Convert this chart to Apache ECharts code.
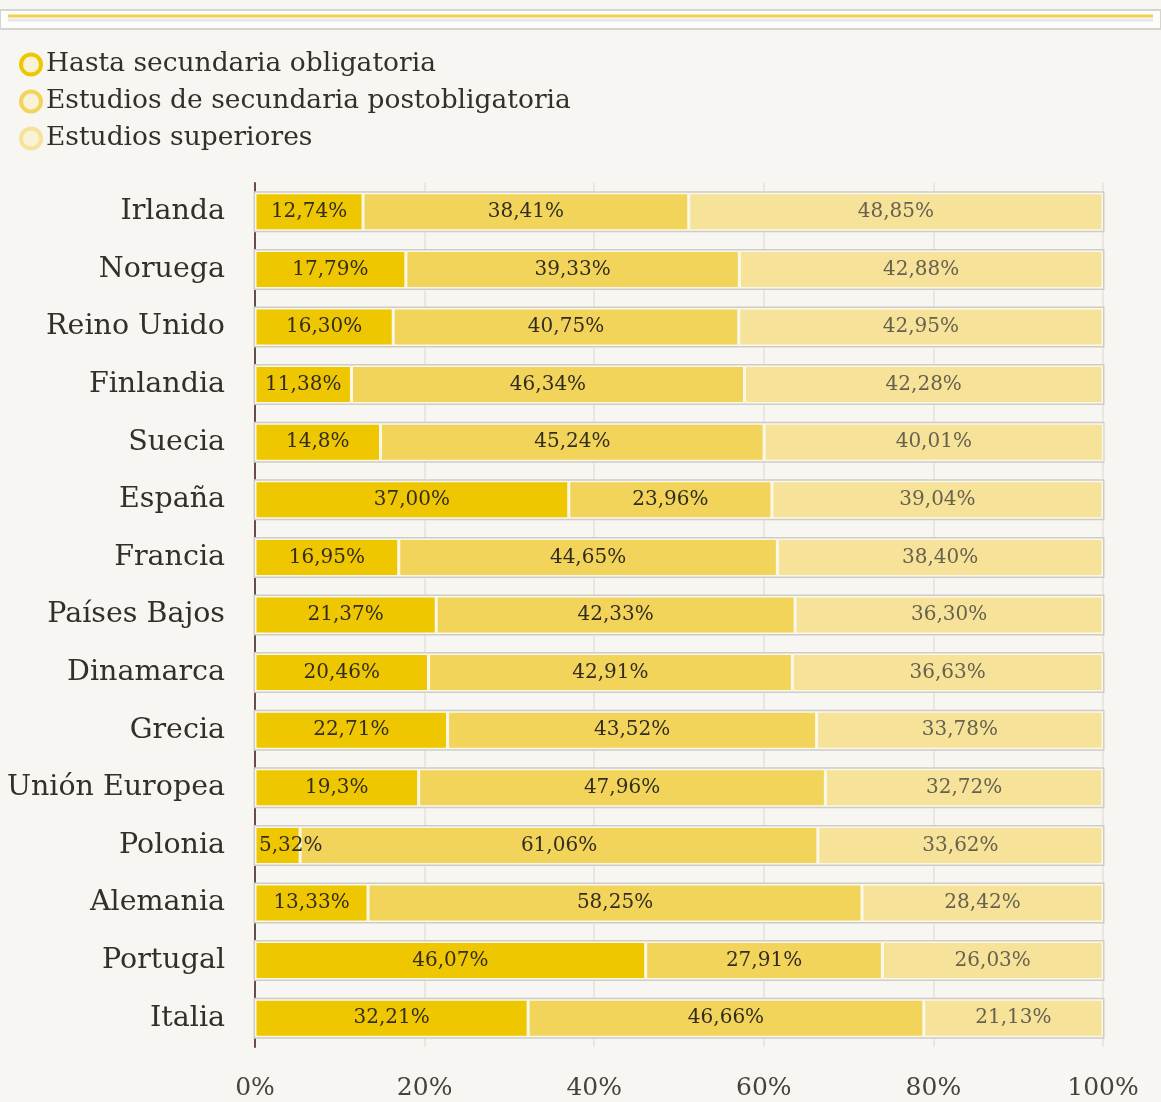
<!DOCTYPE html>
<html lang="es">
  <head>
    <meta charset="utf-8" />
    <title>Nivel de estudios</title>
    <script src="https://cdn.jsdelivr.net/npm/echarts@6/dist/echarts.min.js"></script>
    <style>
      html, body { margin: 0; padding: 0; background: #f7f6f2; }
      #main { width: 1161px; height: 1102px; }
    </style>
  </head>
  <body>
    <div id="main"></div>
    <script>
      // categorías y valores (de arriba a abajo)
      var paises = ["Irlanda", "Noruega", "Reino Unido", "Finlandia", "Suecia", "España", "Francia",
        "Países Bajos", "Dinamarca", "Grecia", "Unión Europea", "Polonia", "Alemania", "Portugal", "Italia"];
      var nombres = ["Hasta secundaria obligatoria", "Estudios de secundaria postobligatoria", "Estudios superiores"];
      // se guardan como texto para conservar los decimales del rótulo
      var obligatoria = ["12.74", "17.79", "16.30", "11.38", "14.8", "37.00", "16.95", "21.37", "20.46", "22.71", "19.3", "5.32", "13.33", "46.07", "32.21"];
      var postobligatoria = ["38.41", "39.33", "40.75", "46.34", "45.24", "23.96", "44.65", "42.33", "42.91", "43.52", "47.96", "61.06", "58.25", "27.91", "46.66"];
      var superiores = ["48.85", "42.88", "42.95", "42.28", "40.01", "39.04", "38.40", "36.30", "36.63", "33.78", "32.72", "33.62", "28.42", "26.03", "21.13"];
      var ejeX = [0, 20, 40, 60, 80, 100];

      var colores = ["#efc700", "#f2d45a", "#f6e298"];
      var colorTexto = ["#332d20", "#332d20", "#67624f"];
      var fuente = "DejaVu Serif";
      var listas = [obligatoria, postobligatoria, superiores];

      var series = listas.map(function (lista, k) {
        var s = {
          name: nombres[k],
          type: "bar",
          stack: "total",
          barWidth: 38,
          data: lista.map(function (v) {
            var n = Number(v);
            // los tramos muy cortos llevan el rótulo pegado a la izquierda
            if (n < 8) return { value: n, label: { position: "insideLeft", distance: 4 } };
            return n;
          }),
          itemStyle: { color: colores[k], borderColor: "#fbf8ea", borderWidth: 1.5 },
          label: {
            show: true,
            position: "inside",
            fontFamily: fuente,
            fontSize: 20,
            color: colorTexto[k],
            formatter: function (p) { return lista[p.dataIndex].replace(".", ",") + "%"; }
          },
          emphasis: { disabled: true }
        };
        if (k === 0) {
          s.showBackground = true;
          s.backgroundStyle = { color: "rgba(0,0,0,0)", borderColor: "#cfccc4", borderWidth: 3 };
        }
        return s;
      });

      var myChart = echarts.init(document.getElementById("main"));
      myChart.setOption({
        backgroundColor: "#f7f6f2",
        animation: false,
        graphic: [
          { type: "rect", shape: { x: 0, y: 10, width: 1161, height: 19 }, style: { fill: "#fdfdfb", stroke: "#d6d4cf", lineWidth: 2 } },
          { type: "line", shape: { x1: 8, y1: 16, x2: 1153, y2: 16 }, style: { stroke: "#f0d24a", lineWidth: 3 } },
          { type: "line", shape: { x1: 8, y1: 20, x2: 1153, y2: 20 }, style: { stroke: "#e6e8ee", lineWidth: 3 } }
        ],
        legend: {
          orient: "vertical",
          left: 14,
          top: 46,
          itemWidth: 20,
          itemHeight: 20,
          itemGap: 10,
          icon: "circle",
          textStyle: { fontFamily: fuente, fontSize: 26.5, color: "#332f2a" },
          data: nombres.map(function (n, k) {
            return { name: n, itemStyle: { color: "#f8f2d6", borderColor: colores[k], borderWidth: 4 } };
          })
        },
        grid: { left: 255, right: 58, top: 183, bottom: 55, containLabel: false },
        xAxis: {
          type: "value",
          min: ejeX[0],
          max: ejeX[ejeX.length - 1],
          interval: 20,
          axisLine: { show: false },
          axisTick: { show: false },
          splitLine: { lineStyle: { color: "#e4e2dc", width: 1.5 } },
          axisLabel: {
            margin: 29,
            fontFamily: fuente,
            fontSize: 25,
            color: "#46423c",
            formatter: function (v) { return v + "%"; }
          }
        },
        yAxis: {
          type: "category",
          inverse: true,
          data: paises,
          axisLine: { lineStyle: { color: "#6a4c4c", width: 2 } },
          axisTick: { show: false },
          axisLabel: { margin: 30, fontFamily: fuente, fontSize: 28.5, color: "#332f2a" }
        },
        series: series
      });
    </script>
  </body>
</html>
